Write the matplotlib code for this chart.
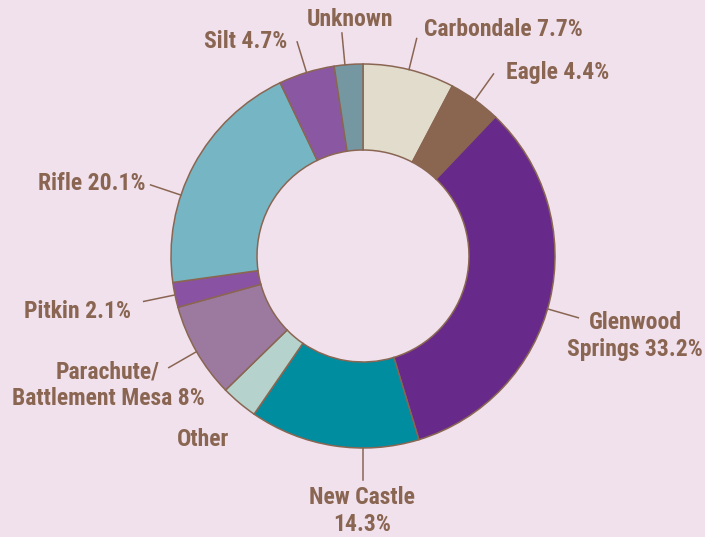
import numpy as np
import matplotlib
matplotlib.use("Agg")
import matplotlib.pyplot as plt

# slices, clockwise from 12 o'clock
labels = ["Carbondale", "Eagle", "Glenwood Springs", "New Castle", "Other",
          "Parachute/Battlement Mesa", "Pitkin", "Rifle", "Silt", "Unknown"]
shares = [7.7, 4.4, 33.2, 14.3, 3.1, 8.0, 2.1, 20.1, 4.7, 2.4]
texts = ["Carbondale 7.7%", "Eagle 4.4%", "Glenwood\nSprings 33.2%", "New Castle\n14.3%", "Other",
         "Parachute/\nBattlement Mesa 8%", "Pitkin 2.1%", "Rifle 20.1%", "Silt 4.7%", "Unknown"]
colors = ["#e1dccb", "#8a6650", "#672a8a", "#008d9f", "#b5d3cc",
          "#9c7aa0", "#8a52a2", "#76b6c4", "#8a58a2", "#7597a1"]

BG = "#f0e1ed"
INK = "#8a6652"
W, H = 705, 537
cx, cy = 363, H - 256
R, R_IN = 192, 106

plt.rcParams['font.family'] = ['Roboto Condensed', 'Roboto', 'DejaVu Sans']

fig = plt.figure(figsize=(W / 100, H / 100), dpi=100, facecolor=BG)
ax = fig.add_axes([0, 0, 1, 1])
ax.set_facecolor(BG)

wedges, _ = ax.pie(shares, colors=colors, startangle=90, counterclock=False,
                   radius=R, center=(cx, cy),
                   wedgeprops=dict(width=R - R_IN, edgecolor=INK, linewidth=1.1))
ax.set_xlim(0, W)
ax.set_ylim(0, H)
ax.set_aspect("equal")
ax.axis("off")

# label placement (pixel coords from top-left), ha, leader angle override
layout = {
    "Carbondale": ((424, 30), "left", None),
    "Eagle": ((506, 72), "left", None),
    "Glenwood Springs": ((635, 336), "center", 106),
    "New Castle": ((362, 511), "center", 180),
    "Other": ((203, 440), "center", "none"),
    "Parachute/Battlement Mesa": ((108, 385), "center", None),
    "Pitkin": ((131, 311), "right", None),
    "Rifle": ((145, 184), "right", 288.5),
    "Silt": ((287, 42), "right", None),
    "Unknown": ((350, 20), "center", 354.6),
}

cum = np.cumsum([0] + shares) / sum(shares) * 360
for i, name in enumerate(labels):
    (px, py), ha, ang = layout[name]
    ax.text(px, H - py, texts[i], ha=ha, va="center", color=INK,
            fontsize=17, fontweight="bold", linespacing=1.2, multialignment="center")
    if ang == "none":
        continue
    if ang is None:
        ang = (cum[i] + cum[i + 1]) / 2
    t = np.radians(ang)
    r = np.array([R, R + 32])
    ax.plot(cx + r * np.sin(t), cy + r * np.cos(t), color=INK, lw=1.1)

fig.savefig("out.png", dpi=100, facecolor=BG)
